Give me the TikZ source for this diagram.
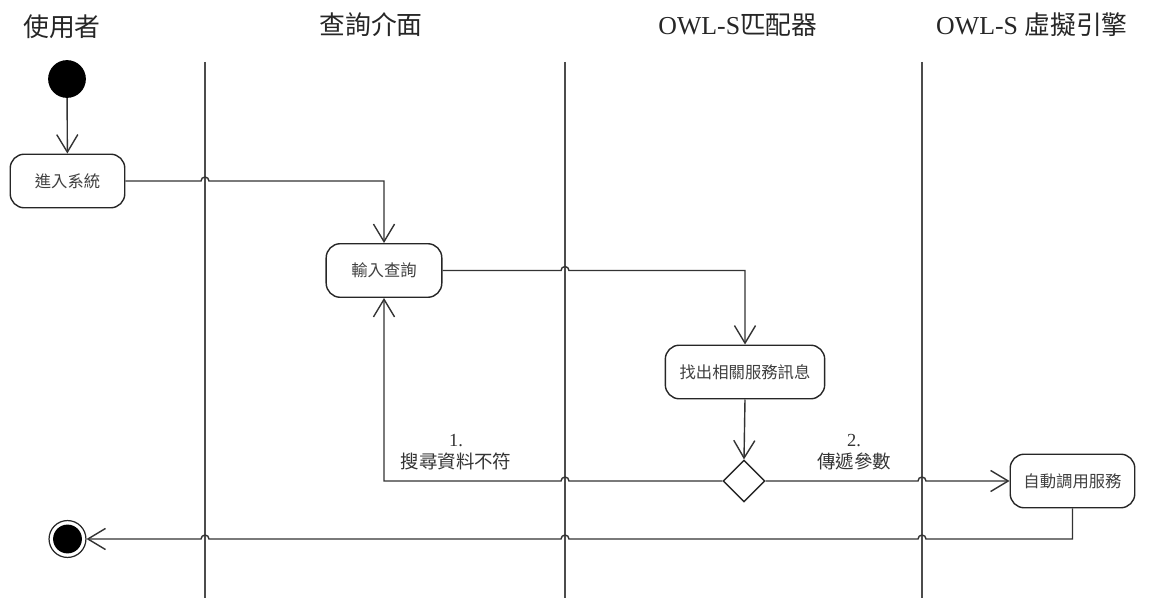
\documentclass[tikz,border=0pt]{standalone}
\usepackage{fontspec}
\setmainfont{Liberation Serif}
\newfontfamily\cjk{Noto Sans CJK TC}
\usetikzlibrary{arrows.meta,shapes.geometric}
\tikzset{
  lane/.style={draw=black!70, line width=1.1pt},
  conn/.style={draw=black!80, line width=0.8pt},
  arr/.style={conn, -{Straight Barb[length=10pt,width=12pt,line width=0.8pt]}},
  act/.style={draw=black!85, line width=0.8pt, rounded corners=8pt, inner sep=0pt,
    minimum height=30.5pt, font=\cjk\fontsize{9.3}{11}\selectfont, text=black!75},
  title/.style={font=\fontsize{14.7}{17}\selectfont, text=black!85, inner sep=0pt},
  lbl/.style={font=\fontsize{10.5}{12.5}\selectfont, text=black!80, align=center, inner sep=0pt},
}
\begin{document}
\begin{tikzpicture}[x=0.02cm, y=-0.02cm]
\useasboundingbox (0,0) rectangle (1150,598);
% swimlane lines
\draw[lane] (205,62) coordinate (L1t) -- (205,598) coordinate (L1b);
\draw[lane] (565,62) coordinate (L2t) -- (565,598) coordinate (L2b);
\draw[lane] (922,62) coordinate (L3t) -- (922,598) coordinate (L3b);
% titles
\node[title] (t1) at (62,27) {\cjk 使用者};
\node[title] (t2) at (371,25) {\cjk 查詢介面};
\node[title] (t3) at (738,25) {OWL-S{\cjk 匹配器}};
\node[title] (t4) at (1032,25) {OWL-S {\cjk 虛擬引擎}};
% nodes
\node[circle, fill=black, minimum size=21.5pt, inner sep=0pt] (init) at (67,79) {};
\node[act, minimum width=65.2pt] (enter) at (67.5,181) {進入系統};
\node[act, minimum width=65.8pt] (input) at (384,270.5) {輸入查詢};
\node[act, minimum width=90.7pt] (find) at (745,372) {找出相關服務訊息};
\node[diamond, draw=black!85, line width=0.8pt, minimum width=23.8pt, minimum height=23.8pt, inner sep=0pt] (dia) at (744,481) {};
\node[act, minimum width=70.9pt] (auto) at (1072.5,481) {自動調用服務};
\node[circle, draw=black!85, line width=0.7pt, minimum size=21pt, inner sep=0pt] (fin) at (67.5,539) {};
\fill (fin.center) circle (8.2pt);
% labels
\node[lbl] (l1) at (456,452) {1.\\{\cjk 搜尋資料不符}};
\node[lbl] (l2) at (854,452) {2.\\{\cjk 傳遞參數}};
% connectors
\draw[arr] (init) -- (enter);
\draw[arr] (enter.east) -- (201,181) arc[start angle=180,end angle=0,radius=2.27pt]
  -- (input.north |- enter.east) -- (input.north);
\draw[arr] (input.east) -- (561,270.5) arc[start angle=180,end angle=0,radius=2.27pt]
  -- (find.north |- input.east) -- (find.north);
\draw[arr] (find.south) -- (dia.north);
\draw[arr] (dia.west) -- (569,481) arc[start angle=0,end angle=180,radius=2.27pt]
  -- (input.south |- dia.west) -- (input.south);
\draw[arr] (dia.east) -- (918,481) arc[start angle=180,end angle=0,radius=2.27pt]
  -- (auto.west);
\draw[arr] (auto.south) -- (auto.south |- fin.center) -- (926,539)
  arc[start angle=0,end angle=180,radius=2.27pt] -- (569,539)
  arc[start angle=0,end angle=180,radius=2.27pt] -- (209,539)
  arc[start angle=0,end angle=180,radius=2.27pt] -- (fin.east);
\end{tikzpicture}
\end{document}
